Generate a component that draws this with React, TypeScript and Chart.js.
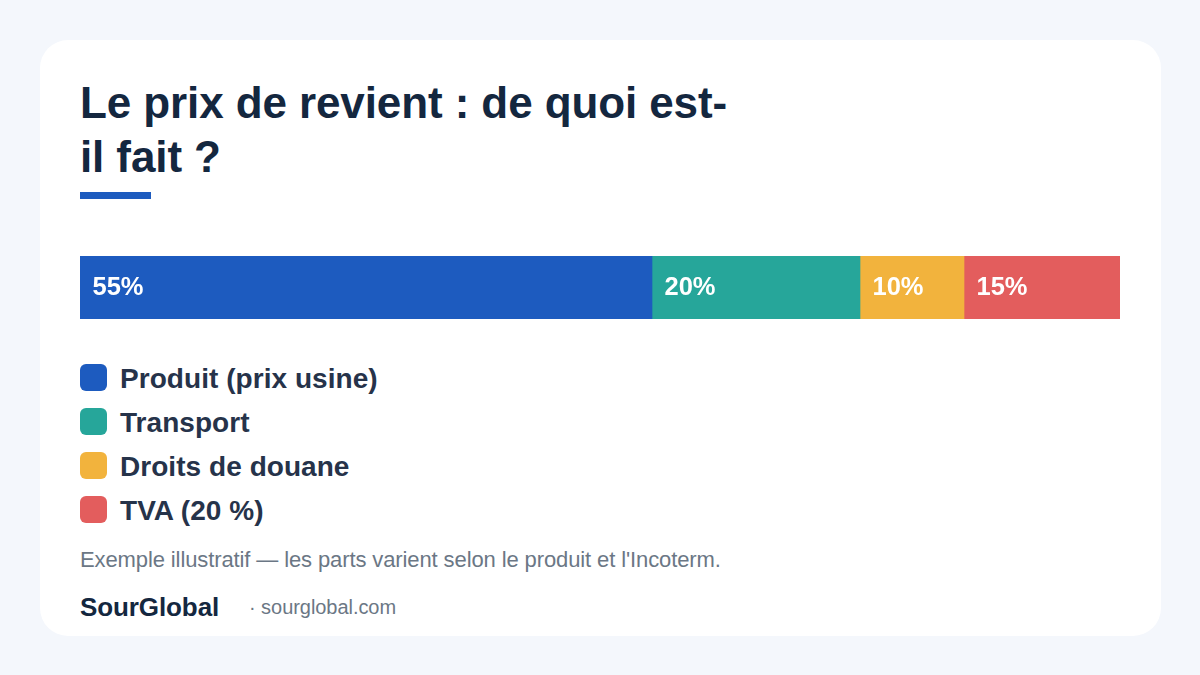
import { useEffect, useRef } from "react"
import { Chart, registerables } from "chart.js"

Chart.register(...registerables)

const categories = ["Produit (prix usine)", "Transport", "Droits de douane", "TVA (20 %)"]
const shares = [55, 20, 10, 15]
const colors = ["#1d5bbf", "#26a69a", "#f2b33d", "#e35d5d"]

const FONT = '"Liberation Sans", Arial, sans-serif'

// writes "55%" inside the left edge of each segment
const segmentLabels = {
  id: "segmentLabels",
  afterDatasetsDraw(chart: Chart) {
    const { ctx } = chart
    ctx.save()
    ctx.fillStyle = "#ffffff"
    ctx.font = `bold 25.5px ${FONT}`
    ctx.textBaseline = "middle"
    chart.data.datasets.forEach((dataset, i) => {
      const bar = chart.getDatasetMeta(i).data[0] as any
      ctx.fillText(`${dataset.data[0]}%`, bar.base + 12.5, bar.y)
    })
    ctx.restore()
  },
}

function ShareBar() {
  const canvasRef = useRef<HTMLCanvasElement>(null)

  useEffect(() => {
    if (!canvasRef.current) return
    const chart = new Chart(canvasRef.current, {
      type: "bar",
      data: {
        labels: ["Prix de revient"],
        datasets: categories.map((label, i) => ({
          label,
          data: [shares[i]],
          backgroundColor: colors[i],
          borderWidth: 0,
          barPercentage: 1,
          categoryPercentage: 1,
        })),
      },
      options: {
        indexAxis: "y",
        animation: false,
        responsive: false,
        devicePixelRatio: 1,
        layout: { padding: 0 },
        scales: {
          x: { stacked: true, display: false, min: 0, max: 100 },
          y: { stacked: true, display: false },
        },
        plugins: { legend: { display: false }, tooltip: { enabled: false } },
      },
      plugins: [segmentLabels],
    })
    return () => chart.destroy()
  }, [])

  return (
    <canvas
      ref={canvasRef}
      width={1040}
      height={63}
      style={{ position: "absolute", left: 40, top: 216, width: 1040, height: 63 }}
    />
  )
}

export default function App() {
  useEffect(() => {
    document.body.style.margin = "0"
  }, [])

  return (
    <div style={{ position: "relative", width: 1200, height: 675, background: "#f4f7fc", overflow: "hidden", fontFamily: FONT }}>
      <div style={{ position: "absolute", left: 40, top: 40, width: 1121, height: 596, background: "#fff", borderRadius: 28 }}>
        <div style={{ position: "absolute", left: 40, top: 36, width: 660, fontSize: 44, lineHeight: "54px", letterSpacing: -0.1, fontWeight: 700, color: "#14273f" }}>
          Le prix de revient : de quoi est-il fait ?
        </div>
        <div style={{ position: "absolute", left: 40, top: 152, width: 71, height: 7, background: "#1d5bbf" }} />
        <ShareBar />
        {categories.map((name, i) => (
          <div key={name} style={{ position: "absolute", left: 40, top: 324 + i * 44, height: 27, display: "flex", alignItems: "center" }}>
            <span style={{ width: 27, height: 27, borderRadius: 6, background: colors[i], marginRight: 13 }} />
            <span style={{ fontSize: 28, position: "relative", top: 1, letterSpacing: 0.05, fontWeight: 700, color: "#26334a", whiteSpace: "nowrap" }}>{name}</span>
          </div>
        ))}
        <div style={{ position: "absolute", left: 40, top: 507, fontSize: 22, lineHeight: "26px", letterSpacing: -0.11, color: "#6b7785", whiteSpace: "nowrap" }}>
          Exemple illustratif — les parts varient selon le produit et l'Incoterm.
        </div>
        <div style={{ position: "absolute", left: 40, top: 551, fontSize: 26, lineHeight: "32px", letterSpacing: -0.1, fontWeight: 700, color: "#14273f", whiteSpace: "nowrap" }}>
          SourGlobal
        </div>
        <div style={{ position: "absolute", left: 209, top: 555, fontSize: 20, lineHeight: "24px", letterSpacing: -0.05, color: "#6b7785", whiteSpace: "nowrap" }}>
          · sourglobal.com
        </div>
      </div>
    </div>
  )
}
